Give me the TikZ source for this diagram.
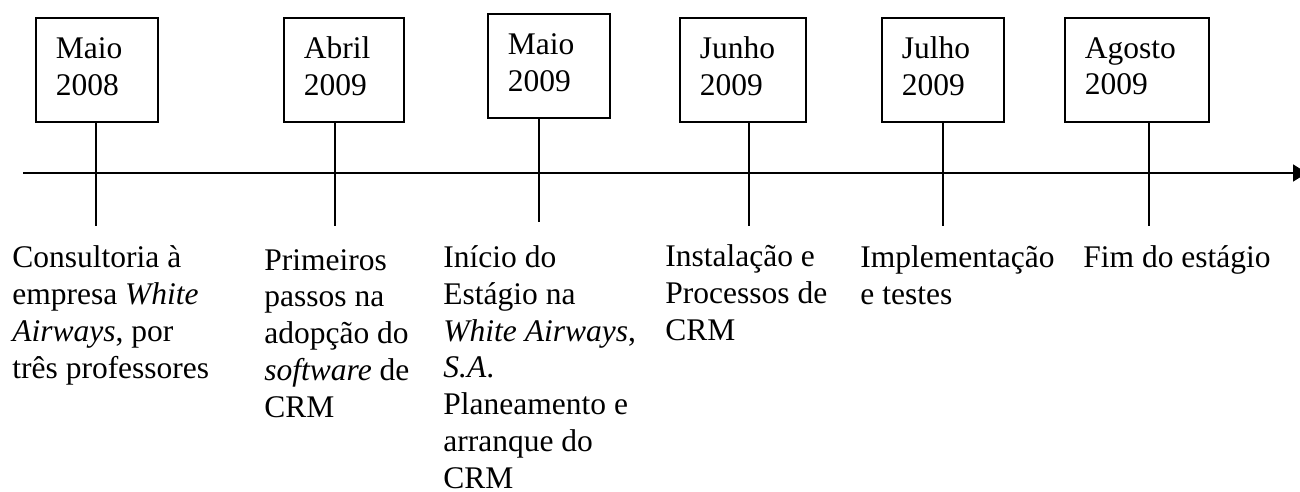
\documentclass[tikz,border=0pt]{standalone}
\usepackage{fontspec}
\setmainfont{Liberation Serif}
\usetikzlibrary{arrows.meta}
\tikzset{
  datebox/.style={draw, line width=0.9pt, rectangle, anchor=north west, inner xsep=10pt, inner ysep=0pt, minimum height=52pt, align=left, text depth=22pt},
  note/.style={anchor=base west, align=left, inner sep=0pt},
  stemline/.style={line width=0.9pt}
}

\begin{document}
\begin{tikzpicture}[x=0.5pt, y=-0.5pt, font=\fontsize{15.75}{18.35}\selectfont]
			\useasboundingbox (0,0) rectangle (1300,492);

			\coordinate (axL) at (23,173);
			\coordinate (axR) at (1307,173);
			\coordinate (s1) at (96,226);
			\coordinate (s2) at (335,226);
			\coordinate (s3) at (539,222);
			\coordinate (s4) at (749,226);
			\coordinate (s5) at (943,226);
			\coordinate (s6) at (1149,226);

			\node[datebox, text width=41pt] (d1) at (35,17) {Maio\\2008};
			\node[datebox, text width=40pt] (d2) at (283,17) {Abril\\2009};
			\node[datebox, text width=41pt] (d3) at (487,13) {Maio\\2009};
			\node[datebox, text width=43pt] (d4) at (679,17) {Junho\\2009};
			\node[datebox, text width=41pt] (d5) at (881,17) {Julho\\2009};
			\node[datebox, text width=52pt] (d6) at (1064,17) {Agosto\\2009};

			\draw[line width=0.9pt, -{Triangle[length=7pt,width=8.5pt]}] (axL) -- (axR);

			\draw[stemline] (d1.south -| s1) -- (s1);
			\draw[stemline] (d2.south -| s2) -- (s2);
			\draw[stemline] (d3.south -| s3) -- (s3);
			\draw[stemline] (d4.south -| s4) -- (s4);
			\draw[stemline] (d5.south -| s5) -- (s5);
			\draw[stemline] (d6.south -| s6) -- (s6);

			\node[note] (n1) at (12,378) {Consultoria à\\empresa \textit{White}\\\textit{Airways}, por\\três professores};
			\node[note] (n2) at (264,417) {Primeiros\\passos na\\adopção do\\\textit{software} de\\CRM};
			\node[note] (n3) at (443,488) {Início do\\Estágio na\\\textit{White Airways},\\\textit{S.A}.\\Planeamento e\\arranque do\\CRM};
			\node[note] (n4) at (665,340) {Instalação e\\Processos de\\CRM};
			\node[note] (n5) at (860,304) {Implementação\\e testes};
			\node[note] (n6) at (1083,267) {Fim do estágio};
		\end{tikzpicture}
\end{document}
